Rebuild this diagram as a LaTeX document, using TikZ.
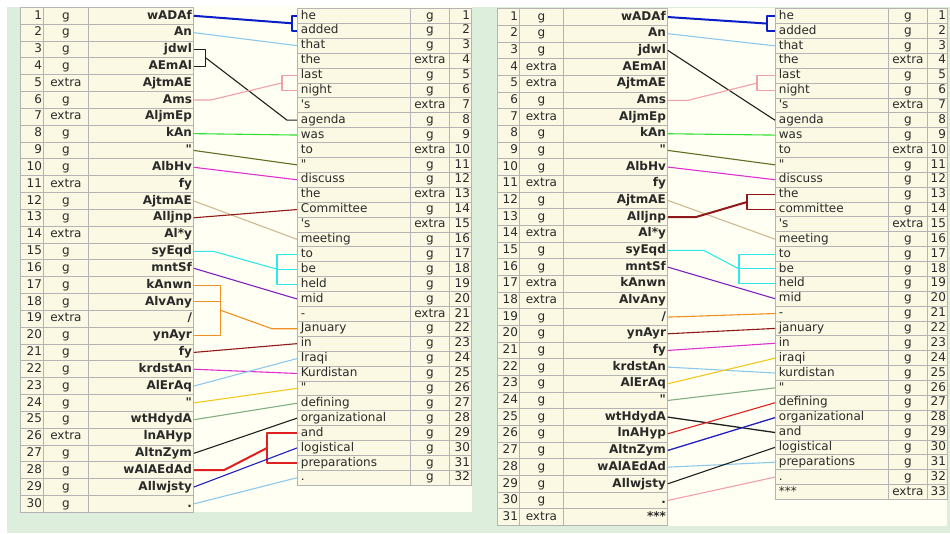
\documentclass[tikz,border=0pt]{standalone}
\usepackage{fontspec}
\newfontfamily\tabfont{DejaVu Sans}
\usetikzlibrary{calc}
\definecolor{Panel}{HTML}{DDEEDD}
\definecolor{Paper}{HTML}{FFFFF4}
\definecolor{Cell}{HTML}{FBF9E3}
\definecolor{Rule}{HTML}{B4B4B4}
\definecolor{Ink}{HTML}{2A2A2A}
\definecolor{LnBlue}{HTML}{0A1EC8}
\definecolor{LnSky}{HTML}{8CC8EC}
\definecolor{LnBlack}{HTML}{202020}
\definecolor{LnPink}{HTML}{F0A0A8}
\definecolor{LnGreen}{HTML}{30E030}
\definecolor{LnOlive}{HTML}{607020}
\definecolor{LnMagenta}{HTML}{E030D0}
\definecolor{LnTan}{HTML}{D0B890}
\definecolor{LnMaroon}{HTML}{901818}
\definecolor{LnCyan}{HTML}{30E8E8}
\definecolor{LnPurple}{HTML}{8020C0}
\definecolor{LnOrange}{HTML}{F09020}
\definecolor{LnGold}{HTML}{F0C820}
\definecolor{LnSage}{HTML}{80B080}
\definecolor{LnRed}{HTML}{E02020}
\definecolor{LnMid}{HTML}{2020C0}

\begin{document}
\begin{tikzpicture}[x=1pt,y=-1pt,
  cell/.style={draw=Rule, line width=0.8pt, fill=Cell, text=Ink, inner xsep=1.5pt, inner ysep=0pt,
    anchor=north west, text height=8.8pt, text depth=2.4pt, font=\tabfont\fontsize{12}{14}\selectfont},
  numcol/.style={cell, align=right},
  tagcol/.style={cell, align=center},
  wordR/.style={cell, align=right, font=\tabfont\bfseries\fontsize{12}{14}\selectfont},
  wordL/.style={cell, align=left, inner xsep=3.5pt},
  ln/.style={line width=1.1pt, line join=round},
  lnthick/.style={line width=2pt, line join=round}]
  \useasboundingbox (0,0) rectangle (950,533);
  % panels
  \fill[Panel] (7,7) rectangle (950,533);
  \fill[Paper] (20,7) rectangle (472,512);
  \fill[Paper] (497,8) rectangle (947,526);

  % left panel, source side
  \foreach \tgs/\wrd [count=\i] in {g/wADAf, g/An, g/jdwl, g/AEmAl, extra/AjtmAE, g/Ams, extra/AljmEp, g/kAn, g/", g/AlbHv,
      extra/fy, g/AjtmAE, g/Alljnp, extra/Al*y, g/syEqd, g/mntSf, g/kAnwn, g/AlvAny, extra/\slash, g/ynAyr,
      g/fy, g/krdstAn, g/AlErAq, g/", g/wtHdydA, extra/lnAHyp, g/AltnZym, g/wAlAEdAd, g/Allwjsty, g/.}
  {
    \pgfmathsetmacro\yy{7+(\i-1)*16.83}
    \node[numcol, text width=20pt, minimum height=16.83pt] (An\i) at (20,\yy) {\i};
    \node[tagcol, text width=42pt, minimum height=16.83pt] (At\i) at (43,\yy) {\tgs};
    \node[wordR, text width=102pt, minimum height=16.83pt] (Aw\i) at (88,\yy) {\wrd};
  }
  % left panel, target side
  \foreach \wrd/\tgs [count=\i] in {he/g, added/g, that/g, the/extra, last/g, night/g, 's/extra, agenda/g, was/g, to/extra,
      "/g, discuss/g, the/extra, Committee/g, 's/extra, meeting/g, to/g, be/g, held/g, mid/g,
      -/extra, January/g, in/g, Iraqi/g, Kurdistan/g, "/g, defining/g, organizational/g, and/g, logistical/g,
      preparations/g, ./g}
  {
    \pgfmathsetmacro\yy{8+(\i-1)*14.9}
    \node[wordL, text width=106pt, minimum height=14.9pt] (Bw\i) at (297,\yy) {\wrd};
    \node[tagcol, text width=36pt, minimum height=14.9pt] (Bt\i) at (410,\yy) {\tgs};
    \node[numcol, text width=19pt, minimum height=14.9pt] (Bn\i) at (449,\yy) {\i};
  }
  % right panel, source side
  \foreach \tgs/\wrd [count=\i] in {g/wADAf, g/An, g/jdwl, extra/AEmAl, extra/AjtmAE, g/Ams, extra/AljmEp, g/kAn, g/", g/AlbHv,
      extra/fy, g/AjtmAE, g/Alljnp, extra/Al*y, g/syEqd, g/mntSf, extra/kAnwn, extra/AlvAny, g/\slash, g/ynAyr,
      g/fy, g/krdstAn, g/AlErAq, g/", g/wtHdydA, g/lnAHyp, g/AltnZym, g/wAlAEdAd, g/Allwjsty, g/., extra/***}
  {
    \pgfmathsetmacro\yy{8.3+(\i-1)*16.67}
    \node[numcol, text width=19pt, minimum height=16.67pt] (Cn\i) at (497,\yy) {\i};
    \node[tagcol, text width=41pt, minimum height=16.67pt] (Ct\i) at (519,\yy) {\tgs};
    \node[wordR, text width=101pt, minimum height=16.67pt] (Cw\i) at (563,\yy) {\wrd};
  }
  % right panel, target side
  \foreach \wrd/\tgs [count=\i] in {he/g, added/g, that/g, the/extra, last/g, night/g, 's/extra, agenda/g, was/g, to/extra,
      "/g, discuss/g, the/g, committee/g, 's/extra, meeting/g, to/g, be/g, held/g, mid/g,
      -/g, january/g, in/g, iraqi/g, kurdistan/g, "/g, defining/g, organizational/g, and/g, logistical/g,
      preparations/g, ./g, ***/extra}
  {
    \pgfmathsetmacro\yy{8.3+(\i-1)*14.87}
    \node[wordL, text width=106pt, minimum height=14.87pt] (Dw\i) at (775,\yy) {\wrd};
    \node[tagcol, text width=36pt, minimum height=14.87pt] (Dt\i) at (888,\yy) {\tgs};
    \node[numcol, text width=17pt, minimum height=14.87pt] (Dn\i) at (927,\yy) {\i};
  }

  % left panel links
  \coordinate (jB1) at ($(Bw1.west)!.5!(Bw2.west)+(-5,0)$);
  \draw[lnthick, LnBlue] (Aw1.east) -- (jB1);
  \draw[lnthick, LnBlue] (Bw1.west) -- ++(-5,0) |- (Bw2.west);
  \draw[ln, LnSky] (Aw2.east) -- (Bw3.west);
  \coordinate (jA3) at ($(Aw3.east)!.5!(Aw4.east)+(12,0)$);
  \draw[ln, LnBlack] (Aw3.east) -- ++(12,0) |- (Aw4.east);
  \draw[ln, LnBlack] (jA3) -- ($(Bw8.west)+(-10,0)$) -- (Bw8.west);
  \coordinate (jB5) at ($(Bw5.west)!.5!(Bw6.west)+(-15,0)$);
  \draw[ln, LnPink] (Aw6.east) -- ++(17,0) -- (jB5);
  \draw[ln, LnPink] (Bw5.west) -- ++(-15,0) |- (Bw6.west);
  \draw[ln, LnGreen] (Aw8.east) -- (Bw9.west);
  \draw[ln, LnOlive] (Aw9.east) -- (Bw11.west);
  \draw[ln, LnMagenta] (Aw10.east) -- (Bw12.west);
  \draw[ln, LnTan] (Aw12.east) -- (Bw16.west);
  \draw[ln, LnMaroon] (Aw13.east) -- (Bw14.west);
  \coordinate (jB17) at ($(Bw18.west)+(-20,0)$);
  \draw[ln, LnCyan] (Aw15.east) -- ++(20,0) -- (jB17);
  \draw[ln, LnCyan] (Bw17.west) -- ++(-20,0) |- (Bw19.west);
  \draw[ln, LnCyan] (jB17) -- (Bw18.west);
  \draw[ln, LnPurple] (Aw16.east) -- (Bw20.west);
  \coordinate (jA17) at ($(Aw17.east)!.5!(Aw20.east)+(27,0)$);
  \draw[ln, LnOrange] (Aw17.east) -- ++(27,0) |- (Aw20.east);
  \draw[ln, LnOrange] (Aw18.east) -- ++(27,0);
  \draw[ln, LnOrange] (jA17) -- ($(Bw22.west)+(-25,0)$) -- (Bw22.west);
  \draw[ln, LnMaroon] (Aw21.east) -- (Bw23.west);
  \draw[ln, LnMagenta] (Aw22.east) -- (Bw25.west);
  \draw[ln, LnSky] (Aw23.east) -- (Bw24.west);
  \draw[ln, LnGold] (Aw24.east) -- (Bw26.west);
  \draw[ln, LnSage] (Aw25.east) -- (Bw27.west);
  \draw[ln, LnBlack] (Aw27.east) -- (Bw28.west);
  \coordinate (jB29) at ($(Bw29.west)!.5!(Bw31.west)+(-30,0)$);
  \draw[lnthick, LnRed] (Aw28.east) -- ++(30,0) -- (jB29);
  \draw[ln, LnRed, line width=1.4pt] (Bw29.west) -- ++(-30,0) |- (Bw31.west);
  \draw[ln, LnMid] (Aw29.east) -- (Bw30.west);
  \draw[ln, LnSky] (Aw30.east) -- (Bw32.west);

  % right panel links
  \coordinate (jD1) at ($(Dw1.west)!.5!(Dw2.west)+(-8,0)$);
  \draw[lnthick, LnBlue] (Cw1.east) -- (jD1);
  \draw[lnthick, LnBlue] (Dw1.west) -- ++(-8,0) |- (Dw2.west);
  \draw[ln, LnSky] (Cw2.east) -- (Dw3.west);
  \draw[ln, LnBlack] (Cw3.east) -- (Dw8.west);
  \coordinate (jD5) at ($(Dw5.west)!.5!(Dw6.west)+(-18,0)$);
  \draw[ln, LnPink] (Cw6.east) -- ++(20,0) -- (jD5);
  \draw[ln, LnPink] (Dw5.west) -- ++(-18,0) |- (Dw6.west);
  \draw[ln, LnGreen] (Cw8.east) -- (Dw9.west);
  \draw[ln, LnOlive] (Cw9.east) -- (Dw11.west);
  \draw[ln, LnMagenta] (Cw10.east) -- (Dw12.west);
  \draw[ln, LnTan] (Cw12.east) -- (Dw16.west);
  \coordinate (jD13) at ($(Dw13.west)!.5!(Dw14.west)+(-28,0)$);
  \draw[lnthick, LnMaroon] (Cw13.east) -- ++(28,0) -- (jD13);
  \draw[ln, LnMaroon, line width=1.4pt] (Dw13.west) -- ++(-28,0) |- (Dw14.west);
  \coordinate (jD17) at ($(Dw18.west)+(-36,0)$);
  \draw[ln, LnCyan] (Cw15.east) -- ++(36,0) -- (jD17);
  \draw[ln, LnCyan] (Dw17.west) -- ++(-36,0) |- (Dw19.west);
  \draw[ln, LnCyan] (jD17) -- (Dw18.west);
  \draw[ln, LnPurple] (Cw16.east) -- (Dw20.west);
  \draw[ln, LnOrange] (Cw19.east) -- (Dw21.west);
  \draw[ln, LnMaroon] (Cw20.east) -- (Dw22.west);
  \draw[ln, LnMagenta] (Cw21.east) -- (Dw23.west);
  \draw[ln, LnSky] (Cw22.east) -- (Dw25.west);
  \draw[ln, LnGold] (Cw23.east) -- (Dw24.west);
  \draw[ln, LnSage] (Cw24.east) -- (Dw26.west);
  \draw[ln, LnBlack, line width=1.3pt] (Cw25.east) -- (Dw29.west);
  \draw[ln, LnRed] (Cw26.east) -- (Dw27.west);
  \draw[ln, LnMid, line width=1.3pt] (Cw27.east) -- (Dw28.west);
  \draw[ln, LnSky] (Cw28.east) -- (Dw31.west);
  \draw[ln, LnBlack] (Cw29.east) -- (Dw30.west);
  \draw[ln, LnPink] (Cw30.east) -- (Dw32.west);
\end{tikzpicture}
\end{document}
